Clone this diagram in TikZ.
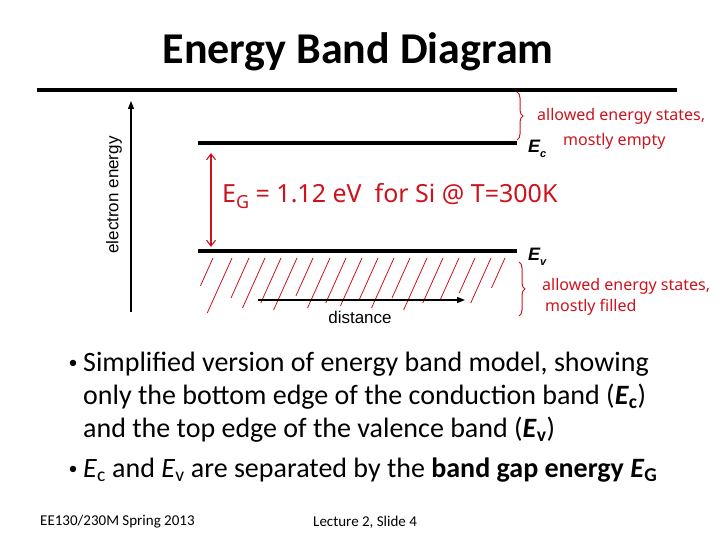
\documentclass[tikz,border=0pt]{standalone}
\usepackage{fontspec}
\setmainfont{Carlito}
\newfontfamily\arialf{Liberation Sans}
\newfontfamily\handf{Noto Sans}
\usetikzlibrary{arrows.meta,decorations.pathreplacing}
\definecolor{penred}{RGB}{205,20,30}
\begin{document}
\begin{tikzpicture}[x=1pt,y=-1pt,
  band/.style={line width=4.5pt},
  hatch/.style={penred,line width=0.8pt},
  hand/.style={penred,font=\handf\fontsize{25}{27}\selectfont,anchor=west,inner sep=0pt},
  handsmall/.style={penred,font=\handf\fontsize{16}{20}\selectfont,anchor=west,inner sep=0pt},
  blab/.style={font=\arialf\fontsize{17}{19}\selectfont,inner sep=0pt},
  elab/.style={font=\arialf\bfseries\itshape\fontsize{18}{19}\selectfont,anchor=west,inner sep=0pt},
  bullet/.style={font=\fontsize{28}{33}\selectfont,anchor=west,inner sep=0pt,align=left},
  bulletdot/.style={font=\fontsize{18}{20}\selectfont,inner sep=0pt},
  foot/.style={font=\fontsize{15}{16}\selectfont,inner sep=0pt,anchor=west}]
\useasboundingbox[fill=white] (0,0) rectangle (720,540);
% title
\node[font=\bfseries\fontsize{44}{48}\selectfont,inner sep=0pt] (title) at (358,52) {Energy Band Diagram};
% top line
\coordinate (tl) at (37,90); \coordinate (tr) at (677,90);
\draw[line width=4pt] (tl) -- (tr);
% energy axis
\coordinate (ea0) at (131,312); \coordinate (ea1) at (131,101);
\draw[line width=1.2pt,-{Triangle[length=8pt,width=6pt]}] (ea0) -- (ea1);
\node[blab,rotate=90] (elabel) at (114,195) {electron energy};
% bands
\coordinate (c0) at (198,143); \coordinate (c1) at (517,143);
\coordinate (v0) at (198,251); \coordinate (v1) at (517,251);
\draw[band] (c0) -- (c1);
\draw[band] (v0) -- (v1);
\node[elab] (Ec) at (528,149) {E\raisebox{-5pt}{\fontsize{11}{11}\selectfont c}};
\node[elab] (Ev) at (528,257) {E\raisebox{-5pt}{\fontsize{11}{11}\selectfont v}};
% gap arrow
\coordinate (g0) at (211,153); \coordinate (g1) at (211,247);
\draw[penred,line width=1.1pt,{Straight Barb[length=6pt,width=9pt]}-{Straight Barb[length=6pt,width=9pt]}] (g0) -- (g1);
\node[hand] (eg) at (222,196) {E\raisebox{-6pt}{\fontsize{18}{18}\selectfont G} = 1.12 eV \ for Si @ T=300K};
% hatching
\foreach \xt/\l in {213/28,232/55,249/40,265/50,281/45,297/52,313/38,330/50,346/45,362/48,378/42,394/50,410/40,427/52,443/45,459/42,475/35,491/45,505/30}{
  \draw[hatch] (\xt,258) -- ++({-0.45*\l},\l);
}
% distance
\coordinate (d0) at (258,300); \coordinate (d1) at (465,300);
\draw[line width=1.2pt,-{Triangle[length=8pt,width=6pt]}] (d0) -- (d1);
\node[blab] (dist) at (360,317) {distance};
% braces
\coordinate (b0) at (517,92); \coordinate (b1) at (517,140);
\draw[penred,line width=1pt,decorate,decoration={brace,amplitude=6pt}] (b0) -- (b1);
\node[handsmall] (t1a) at (537,116) {allowed energy states,};
\node[handsmall] (t1b) at (563,141) {mostly empty};
\coordinate (b2) at (519,262); \coordinate (b3) at (519,316);
\draw[penred,line width=1pt,decorate,decoration={brace,amplitude=6pt}] (b2) -- (b3);
\node[handsmall] (t2a) at (542,286) {allowed energy states,};
\node[handsmall] (t2b) at (545,307) {mostly filled};
% bullets
\node[bulletdot] (bu1) at (73,364) {•};
\node[bullet] (l1) at (83,364) {Simplified version of energy band model, showing};
\node[bullet] (l2) at (83,397) {only the bottom edge of the conduction band (\textbf{\textit{E}}\textsubscript{\textbf{c}})};
\node[bullet] (l3) at (83,430) {and the top edge of the valence band (\textbf{\textit{E}}\textsubscript{\textbf{v}})};
\node[bulletdot] (bu2) at (73,470) {•};
\node[bullet] (l4) at (83,470) {\textit{E}\textsubscript{c} and \textit{E}\textsubscript{v} are separated by the \textbf{band gap energy \textit{E}\textsubscript{G}}};
% footer
\node[foot] (f1) at (40,522) {EE130/230M Spring 2013};
\node[foot] (f2) at (313,522) {Lecture 2, Slide 4};
\end{tikzpicture}
\end{document}
